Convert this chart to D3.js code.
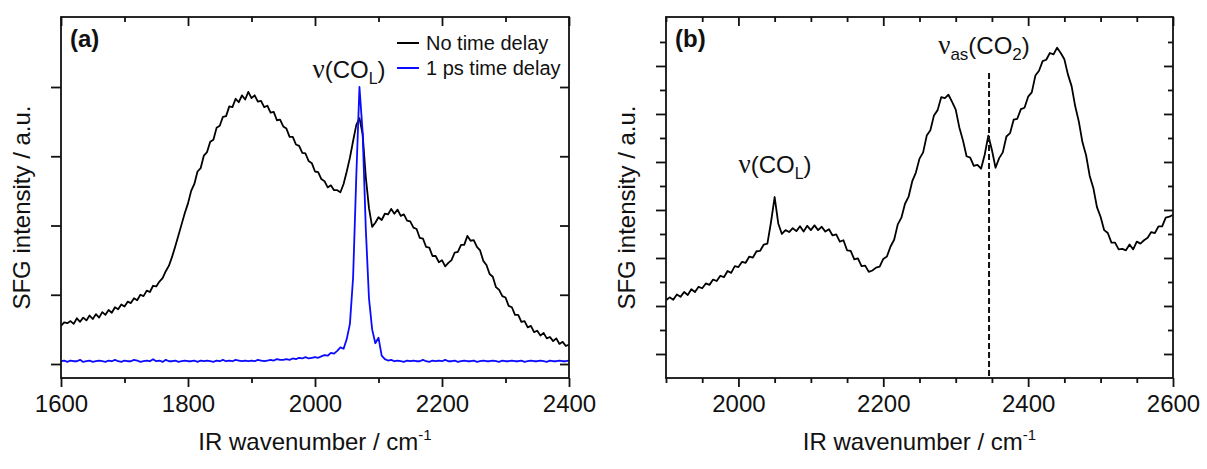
<!DOCTYPE html>
<html><head><meta charset="utf-8">
<script src="https://cdn.jsdelivr.net/npm/d3@7"></script>
<style>
body{margin:0;background:#fff}
svg{display:block}
text{font-family:"Liberation Sans",Arial,sans-serif;fill:#111}
</style>
</head><body>
<svg id="chart" width="1207" height="469"></svg>
<script>
// ---------------- DATA ----------------
// Panel (a)
const aWavenumber = [1600,1605,1610,1615,1620,1625,1630,1635,1640,1645,1650,1655,1660,1665,1670,1675,1680,1685,1690,1695,1700,1705,1710,1715,1720,1725,1730,1735,1740,1745,1750,1755,1760,1765,1770,1775,1780,1785,1790,1795,1800,1805,1810,1815,1820,1825,1830,1835,1840,1845,1850,1855,1860,1865,1870,1875,1880,1885,1890,1895,1900,1905,1910,1915,1920,1925,1930,1935,1940,1945,1950,1955,1960,1965,1970,1975,1980,1985,1990,1995,2000,2005,2010,2015,2020,2025,2030,2035,2040,2045,2050,2055,2060,2065,2070,2075,2080,2085,2090,2095,2100,2105,2110,2115,2120,2125,2130,2135,2140,2145,2150,2155,2160,2165,2170,2175,2180,2185,2190,2195,2200,2205,2210,2215,2220,2225,2230,2235,2240,2245,2250,2255,2260,2265,2270,2275,2280,2285,2290,2295,2300,2305,2310,2315,2320,2325,2330,2335,2340,2345,2350,2355,2360,2365,2370,2375,2380,2385,2390,2395,2400];
const aNoDelay = [0.55,0.60,0.59,0.62,0.58,0.66,0.61,0.67,0.63,0.70,0.65,0.72,0.67,0.75,0.71,0.78,0.74,0.82,0.79,0.86,
0.83,0.90,0.88,0.95,0.92,1.00,0.98,1.06,1.04,1.13,1.12,1.19,1.24,1.34,1.42,1.55,1.70,1.86,2.02,2.18,
2.32,2.50,2.60,2.78,2.83,3.01,3.06,3.21,3.24,3.41,3.44,3.57,3.58,3.72,3.71,3.83,3.78,3.88,3.82,3.93,
3.84,3.88,3.79,3.80,3.71,3.73,3.63,3.64,3.52,3.53,3.43,3.40,3.28,3.28,3.17,3.15,3.05,3.04,2.93,2.90,
2.78,2.77,2.67,2.64,2.55,2.58,2.51,2.51,2.48,2.60,2.78,2.98,3.22,3.45,3.55,3.32,2.70,2.25,1.98,2.04,
2.12,2.08,2.17,2.16,2.24,2.17,2.23,2.14,2.16,2.07,2.06,1.97,1.95,1.82,1.81,1.69,1.68,1.56,1.56,1.47,
1.50,1.41,1.46,1.50,1.61,1.62,1.72,1.72,1.85,1.78,1.79,1.69,1.64,1.49,1.43,1.30,1.26,1.11,1.07,0.98,
0.96,0.84,0.82,0.71,0.71,0.61,0.62,0.53,0.55,0.46,0.48,0.41,0.45,0.37,0.39,0.33,0.37,0.29,0.32,0.26,
0.28];
const aOnePs = [0.04,0.05,0.03,0.05,0.04,0.04,0.06,0.03,0.04,0.05,0.03,0.04,0.05,0.04,0.03,0.05,0.04,0.06,0.04,0.03,
0.05,0.04,0.04,0.06,0.05,0.03,0.04,0.05,0.04,0.07,0.04,0.05,0.03,0.06,0.04,0.04,0.05,0.03,0.04,0.05,
0.04,0.04,0.05,0.03,0.05,0.04,0.05,0.04,0.03,0.05,0.04,0.06,0.04,0.05,0.04,0.06,0.05,0.04,0.05,0.04,
0.05,0.04,0.06,0.05,0.04,0.05,0.06,0.05,0.07,0.06,0.06,0.07,0.06,0.08,0.07,0.09,0.08,0.10,0.08,0.09,
0.10,0.09,0.11,0.13,0.12,0.16,0.15,0.19,0.24,0.22,0.36,0.58,1.25,2.70,4.00,3.35,1.95,0.95,0.50,0.30,
0.38,0.12,0.07,0.05,0.06,0.04,0.05,0.04,0.03,0.05,0.04,0.05,0.04,0.04,0.06,0.04,0.03,0.05,0.04,0.05,
0.04,0.06,0.04,0.04,0.05,0.03,0.04,0.05,0.04,0.04,0.05,0.03,0.04,0.05,0.04,0.04,0.05,0.04,0.03,0.05,
0.04,0.04,0.05,0.04,0.04,0.05,0.03,0.04,0.05,0.04,0.04,0.05,0.04,0.03,0.05,0.04,0.04,0.05,0.04,0.04,
0.05];
const aXMajor = [1600,1800,2000,2200,2400];
const aXMinor = [1700,1900,2100,2300];
const aYMajor = [0,1,2,3,4];
const aSeriesNames = ["No time delay","1 ps time delay"];

// Panel (b)
const bWavenumber = [1900,1905,1910,1915,1920,1925,1930,1935,1940,1945,1950,1955,1960,1965,1970,1975,1980,1985,1990,1995,2000,2005,2010,2015,2020,2025,2030,2035,2040,2045,2050,2055,2060,2065,2070,2075,2080,2085,2090,2095,2100,2105,2110,2115,2120,2125,2130,2135,2140,2145,2150,2155,2160,2165,2170,2175,2180,2185,2190,2195,2200,2205,2210,2215,2220,2225,2230,2235,2240,2245,2250,2255,2260,2265,2270,2275,2280,2285,2290,2295,2300,2305,2310,2315,2320,2325,2330,2335,2340,2345,2350,2355,2360,2365,2370,2375,2380,2385,2390,2395,2400,2405,2410,2415,2420,2425,2430,2435,2440,2445,2450,2455,2460,2465,2470,2475,2480,2485,2490,2495,2500,2505,2510,2515,2520,2525,2530,2535,2540,2545,2550,2555,2560,2565,2570,2575,2580,2585,2590,2595,2600];
const bSignal = [1.12,1.18,1.13,1.24,1.19,1.29,1.23,1.35,1.29,1.40,1.37,1.47,1.44,1.55,1.52,1.63,1.60,1.73,1.69,1.83,1.81,
1.92,1.90,2.03,2.01,2.14,2.15,2.28,2.30,2.75,3.27,2.72,2.50,2.58,2.54,2.62,2.56,2.66,2.55,2.67,2.58,
2.68,2.58,2.65,2.55,2.60,2.47,2.49,2.34,2.37,2.16,2.15,1.97,1.99,1.83,1.84,1.71,1.74,1.80,1.82,1.98,
2.03,2.24,2.38,2.70,2.84,3.13,3.28,3.60,3.78,4.07,4.20,4.55,4.66,4.97,5.08,5.35,5.33,5.40,5.25,5.09,
4.72,4.45,4.12,4.09,3.92,3.94,3.86,4.15,4.55,4.25,3.88,4.08,4.20,4.53,4.60,4.88,4.90,5.10,5.13,5.36,
5.45,5.80,5.90,6.10,6.13,6.27,6.24,6.38,6.27,6.14,5.82,5.58,5.16,4.84,4.41,4.14,3.71,3.46,3.06,2.86,
2.58,2.52,2.32,2.32,2.18,2.19,2.16,2.28,2.18,2.34,2.30,2.37,2.42,2.54,2.52,2.66,2.66,2.84,2.86,2.90];
const bXMajor = [2000,2200,2400,2600];
const bXMinor = [1900,1950,2050,2100,2150,2250,2300,2350,2450,2500,2550];
const bYMajor = [0,1,2,3,4,5,6];
const bYMinor = [0.5,1.5,2.5,3.5,4.5,5.5,6.5];
const bCO2Position = 2346;

// ---------------- DRAWING ----------------
const svg = d3.select("#chart");
const SANS = '"Liberation Sans",Arial,sans-serif';
const SERIF = '"Liberation Serif","Times New Roman",serif';
const FS = 24;

function richText(parent, x, y, parts, anchor, size) {
  const t = parent.append("text").attr("x", x).attr("y", y)
    .attr("text-anchor", anchor || "start").attr("font-size", size);
  parts.forEach(p => {
    const s = t.append("tspan").text(p.t);
    if (p.size) s.attr("font-size", p.size);
    if (p.dy) s.attr("dy", p.dy);
    if (p.family) s.attr("font-family", p.family);
  });
  return t;
}

function panel(cfg) {
  const g = svg.append("g");
  const x = d3.scaleLinear().domain(cfg.xDomain).range([cfg.left, cfg.right]);
  const y = d3.scaleLinear().domain(cfg.yDomain).range([cfg.bottom, cfg.top]);
  const MAJ = 9, MIN = 5;
  const axisStyle = sel => {
    sel.select(".domain").remove();
    sel.selectAll("line").attr("stroke", "#111").attr("stroke-width", 1.8);
    sel.selectAll("text").attr("font-size", FS).attr("font-family", SANS).attr("fill", "#111");
  };
  g.append("g").attr("transform", `translate(0,${cfg.bottom})`)
    .call(d3.axisBottom(x).tickValues(cfg.xMajor).tickSize(MAJ).tickPadding(8).tickFormat(d3.format("d"))).call(axisStyle);
  g.append("g").attr("transform", `translate(0,${cfg.bottom})`)
    .call(d3.axisBottom(x).tickValues(cfg.xMinor).tickSize(MIN).tickFormat("")).call(axisStyle);
  g.append("g").attr("transform", `translate(0,${cfg.top})`)
    .call(d3.axisTop(x).tickValues(cfg.xMajor).tickSize(-MAJ).tickFormat("")).call(axisStyle);
  g.append("g").attr("transform", `translate(0,${cfg.top})`)
    .call(d3.axisTop(x).tickValues(cfg.xMinor).tickSize(-MIN).tickFormat("")).call(axisStyle);
  g.append("g").attr("transform", `translate(${cfg.left},0)`)
    .call(d3.axisLeft(y).tickValues(cfg.yMajor).tickSize(MAJ + 1).tickFormat("")).call(axisStyle);
  g.append("g").attr("transform", `translate(${cfg.right},0)`)
    .call(d3.axisRight(y).tickValues(cfg.yMajor).tickSize(-MAJ).tickFormat("")).call(axisStyle);
  if (cfg.yMinor) {
    g.append("g").attr("transform", `translate(${cfg.left},0)`)
      .call(d3.axisLeft(y).tickValues(cfg.yMinor).tickSize(MIN + 1).tickFormat("")).call(axisStyle);
    g.append("g").attr("transform", `translate(${cfg.right},0)`)
      .call(d3.axisRight(y).tickValues(cfg.yMinor).tickSize(-MIN).tickFormat("")).call(axisStyle);
  }
  const clipId = "clip" + cfg.id;
  svg.append("clipPath").attr("id", clipId).append("rect")
    .attr("x", cfg.left).attr("y", cfg.top).attr("width", cfg.right - cfg.left).attr("height", cfg.bottom - cfg.top);
  const plot = g.append("g").attr("clip-path", `url(#${clipId})`);
  g.append("rect").attr("x", cfg.left).attr("y", cfg.top)
    .attr("width", cfg.right - cfg.left).attr("height", cfg.bottom - cfg.top)
    .attr("fill", "none").attr("stroke", "#111").attr("stroke-width", 1.8);
  richText(g, (cfg.left + cfg.right) / 2, 450, [{t: "IR wavenumber / cm"}, {t: "-1", size: 15, dy: -10}], "middle", FS);
  g.append("text").attr("transform", `translate(${cfg.left - 31},${(cfg.top + cfg.bottom) / 2 + 10}) rotate(-90)`)
    .attr("text-anchor", "middle").attr("font-size", FS).text("SFG intensity / a.u.");
  g.append("text").attr("x", cfg.left + 9).attr("y", 47).attr("font-size", 24).attr("font-weight", "bold").text(cfg.letter);
  return {g, x, y, plot};
}

// Panel (a)
const A = panel({id: "a", left: 61, right: 569, top: 17, bottom: 378,
  xDomain: [1600, 2400], yDomain: [-0.202, 5.011],
  xMajor: aXMajor, xMinor: aXMinor, yMajor: aYMajor, letter: "(a)"});
const aLine = series => d3.line().x((d, i) => A.x(aWavenumber[i])).y(d => A.y(d))(series);
A.plot.append("path").attr("d", aLine(aNoDelay)).attr("fill", "none").attr("stroke", "#000").attr("stroke-width", 1.8).attr("stroke-linejoin", "round");
A.plot.append("path").attr("d", aLine(aOnePs)).attr("fill", "none").attr("stroke", "#0a0aff").attr("stroke-width", 1.8).attr("stroke-linejoin", "round");
const legendColors = ["#000", "#0a0aff"];
aSeriesNames.forEach((name, i) => {
  const ly = 43 + i * 25;
  A.g.append("line").attr("x1", 397).attr("x2", 419).attr("y1", ly).attr("y2", ly)
    .attr("stroke", legendColors[i]).attr("stroke-width", 2);
  A.g.append("text").attr("x", 426).attr("y", ly + 7).attr("font-size", 20).text(name);
});
richText(A.g, 349, 78, [{t: "ν", family: SERIF, size: 27}, {t: "(CO"}, {t: "L", size: 16, dy: 6}, {t: ")", dy: -6}], "middle", FS);

// Panel (b)
const B = panel({id: "b", left: 666, right: 1173, top: 17, bottom: 378,
  xDomain: [1900, 2600], yDomain: [-0.5, 7.02],
  xMajor: bXMajor, xMinor: bXMinor, yMajor: bYMajor, yMinor: bYMinor, letter: "(b)"});
const bLine = d3.line().x((d, i) => B.x(bWavenumber[i])).y(d => B.y(d));
B.plot.append("path").attr("d", bLine(bSignal)).attr("fill", "none").attr("stroke", "#000").attr("stroke-width", 1.8).attr("stroke-linejoin", "round");
B.g.append("line").attr("x1", B.x(bCO2Position)).attr("x2", B.x(bCO2Position)).attr("y1", 73).attr("y2", 378)
  .attr("stroke", "#111").attr("stroke-width", 2).attr("stroke-dasharray", "6,3");
richText(B.g, 775, 173, [{t: "ν", family: SERIF, size: 27}, {t: "(CO"}, {t: "L", size: 16, dy: 6}, {t: ")", dy: -6}], "middle", FS);
richText(B.g, 984, 54, [{t: "ν", family: SERIF, size: 27}, {t: "as", size: 17, dy: 6}, {t: "(CO", dy: -6}, {t: "2", size: 17, dy: 6}, {t: ")", dy: -6}], "middle", FS);
</script>
</body></html>
